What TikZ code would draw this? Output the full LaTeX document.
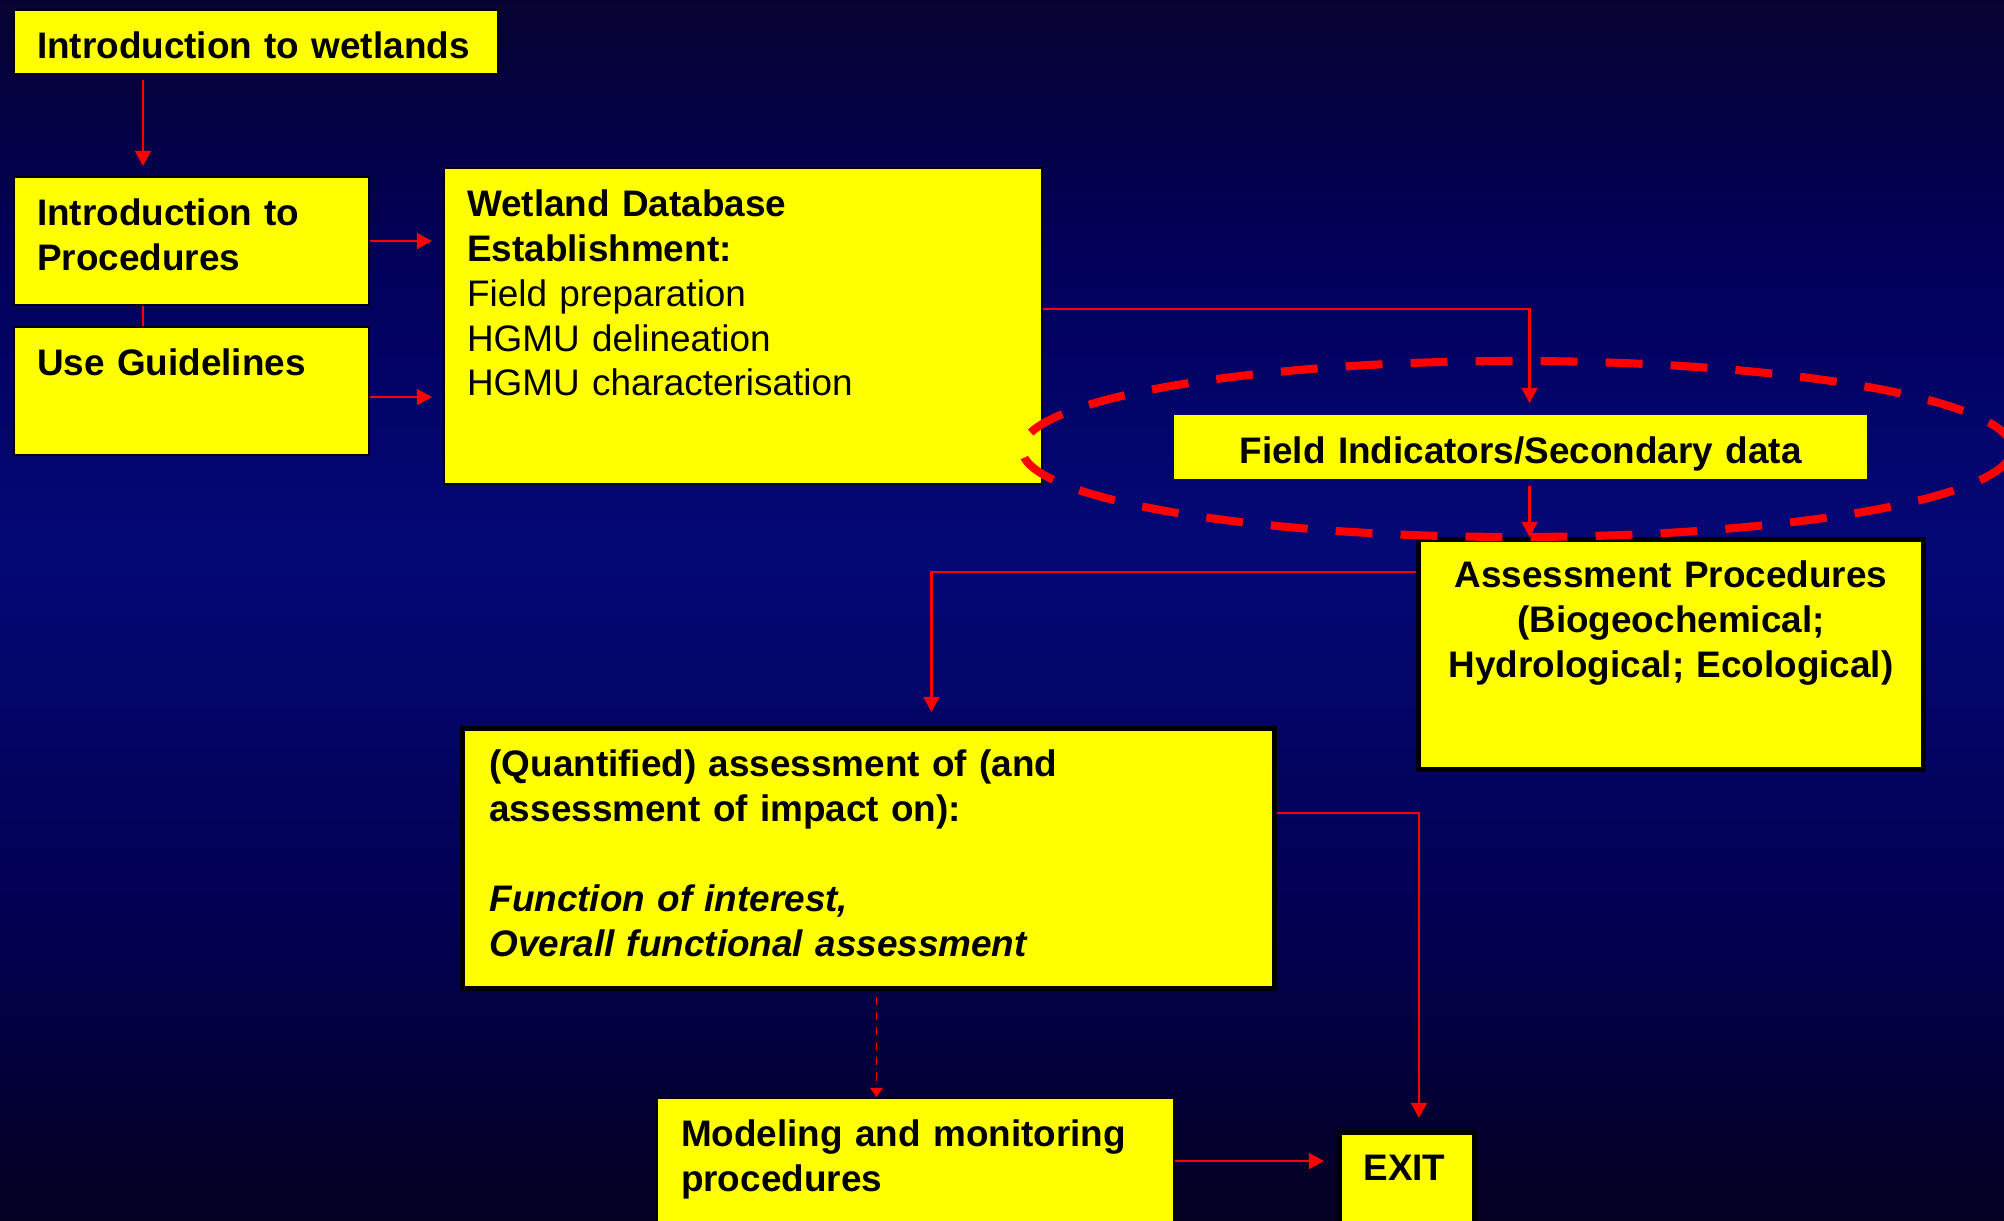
\documentclass[tikz,border=0pt]{standalone}
\usepackage{fontspec}
\setmainfont{Liberation Sans}
\usetikzlibrary{arrows.meta}
\definecolor{bgtop}{RGB}{6,2,48}
\definecolor{bgupper}{RGB}{2,0,92}
\definecolor{bgmid}{RGB}{4,8,118}
\definecolor{bglower}{RGB}{2,0,82}
\definecolor{bgbot}{RGB}{4,0,34}
\definecolor{boxyellow}{RGB}{255,255,0}
\pgfdeclareverticalshading{slidebg}{100bp}{color(0bp)=(bgbot); color(25bp)=(bgbot); color(37.5bp)=(bglower); color(52.5bp)=(bgmid); color(64bp)=(bgupper); color(75bp)=(bgtop); color(100bp)=(bgtop)}

\begin{document}
\begin{tikzpicture}[
    panel/.style={draw=black, line width=0.6pt, fill=boxyellow, anchor=north west, inner ysep=0pt, inner xsep=2.3mm, align=left, text height=4.8mm, font=\fontsize{10.5}{12.8}\selectfont},
    heavy/.style={panel, line width=1.4pt},
    link/.style={draw=red, line width=0.7pt, -{Triangle[length=4.3pt,width=4.5pt]}},
    wire/.style={draw=red, line width=0.7pt},
    ring/.style={draw=red, line width=2.3pt, dash pattern=on 10.5pt off 8pt}
]
                    \useasboundingbox (0,0) rectangle (20.04,12.2);
                    \clip (0,0) rectangle (20.04,12.2);
                    \shade[shading=slidebg] (0,0) rectangle (20.04,12.2);
                    \node[panel, text width=43.8mm, text depth=1.6mm] (intro) at (0.13,12.11) {\bfseries Introduction to wetlands};
                    \node[panel, text width=30.9mm, text depth=8mm] (proc) at (0.13,10.44) {\bfseries Introduction to\\ Procedures};
                    \node[panel, text width=30.9mm, text depth=8mm] (guide) at (0.13,8.94) {\bfseries Use Guidelines};
                    \node[panel, text width=55.2mm, text depth=26.8mm] (db) at (4.43,10.53) {\textbf{Wetland Database}\\ \textbf{Establishment:}\\ Field preparation\\ HGMU delineation\\ HGMU characterisation};
                    \node[panel, draw=none, inner xsep=0pt, text width=69.3mm, align=center, text depth=1.6mm] (field) at (11.73,8.06) {\bfseries Field Indicators/Secondary data};
                    \node[heavy, inner xsep=0pt, text width=50.5mm, align=center, text depth=18.2mm] (assess) at (14.16,6.83) {\bfseries Assessment Procedures\\ (Biogeochemical;\\ Hydrological; Ecological)};
                    \node[heavy, inner xsep=2.7mm, text width=75.8mm, text depth=21.2mm] (quant) at (4.60,4.94) {\bfseries (Quantified) assessment of (and\\ assessment of impact on):\\[12.8pt] \itshape Function of interest,\\ Overall functional assessment};
                    \node[panel, inner xsep=2.4mm, text width=46.9mm, text depth=10.2mm] (model) at (6.56,1.23) {\bfseries Modeling and monitoring\\ procedures};
                    \node[heavy, inner xsep=2.4mm, text width=8.7mm, text depth=6.2mm] (exit) at (13.37,0.90) {\bfseries EXIT};
                    \draw[link, shorten <=0.5mm, shorten >=1mm] ([xshift=13mm]proc.north west |- intro.south) -- ([xshift=13mm]proc.north west);
                    \draw[wire] ([xshift=13mm]proc.south west) -- ([xshift=13mm]guide.north west);
                    \draw[link, shorten >=1.1mm] (proc.east) -- (proc.east -| db.west);
                    \draw[link, shorten >=1.1mm] ([yshift=-0.6mm]guide.east) -- ([yshift=-0.6mm]guide.east -| db.west);
                    \draw[link, shorten >=1.1mm] ([yshift=1.7mm]db.east) -| ([xshift=0.9mm]field.north);
                    \draw[link, shorten <=0.6mm] ([xshift=0.9mm]field.south) -- ([xshift=0.9mm]field.south |- assess.north);
                    \draw[link, shorten >=1.4mm] ([yshift=-3.5mm]assess.north west) -| ([xshift=6.3mm]quant.north);
                    \draw[link, shorten >=1.2mm] ([yshift=-8.7mm]quant.north east) -| ([xshift=1.2mm]exit.north);
                    \draw[link, line width=0.55pt, dash pattern=on 2.3pt off 2pt, -{Triangle[length=2.6pt,width=3.6pt]}, shorten <=0.6mm] ([xshift=0.8mm]quant.south) -- ([xshift=0.8mm]quant.south |- model.north);
                    \draw[link, shorten >=1.3mm] ([yshift=-6.4mm]model.north east) -- ([yshift=-6.4mm]model.north east -| exit.west);
                    \draw[ring] (15.17,7.71) ellipse [x radius=4.95, y radius=0.88];
\end{tikzpicture}
\end{document}
